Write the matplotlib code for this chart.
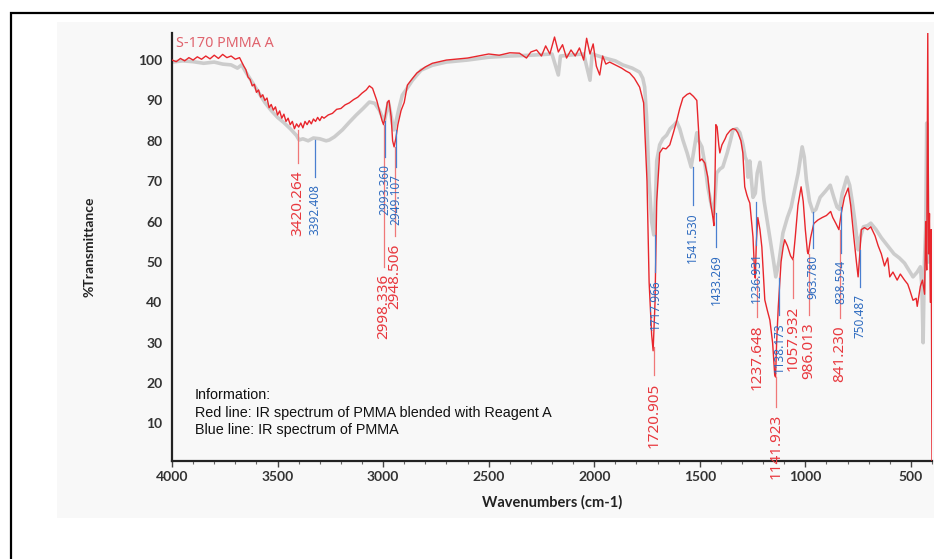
import matplotlib
matplotlib.use("Agg")
import matplotlib.pyplot as plt
from matplotlib.patches import Rectangle
from matplotlib.ticker import MultipleLocator

# blend spectrum (red)
red_wn = [4000, 3980, 3960, 3940, 3920, 3900, 3880, 3860, 3840, 3820, 3800, 3780, 3760, 3740,
          3720, 3700, 3680, 3660, 3650, 3640, 3630, 3620, 3610, 3600, 3590, 3580, 3570, 3560,
          3550, 3540, 3530, 3520, 3510, 3500, 3490, 3480, 3470, 3460, 3450,
          3440, 3430, 3420, 3410, 3400, 3390, 3380, 3370, 3360, 3350, 3340, 3330, 3320, 3310,
          3300, 3290, 3280, 3260, 3240, 3220, 3200, 3180,
          3160, 3140, 3120, 3100, 3080, 3065, 3050, 3030, 3015, 3005, 2998, 2990, 2980, 2972,
          2962, 2955, 2948, 2940, 2930, 2915, 2900, 2885, 2860, 2840, 2800, 2767, 2700, 2600,
          2500, 2450, 2400, 2354, 2321, 2300, 2273, 2250, 2230, 2210, 2188, 2170, 2150, 2131,
          2110, 2090, 2070, 2050, 2036, 2020, 2005, 1990, 1974, 1960, 1945, 1927, 1900, 1870,
          1850, 1832, 1810, 1785, 1766, 1750, 1740, 1728, 1721, 1712, 1704, 1690, 1675, 1660,
          1642, 1625, 1609, 1595, 1580, 1560, 1547, 1530, 1514, 1505, 1500, 1490, 1476, 1462,
          1450, 1438, 1433, 1428, 1424, 1418, 1410, 1405, 1395, 1380, 1372, 1355, 1343, 1330,
          1320, 1305, 1296, 1287, 1277, 1270, 1263, 1255, 1248, 1240, 1237, 1232, 1225, 1215,
          1206, 1198, 1192, 1180, 1168, 1155, 1145, 1141, 1136, 1128, 1115, 1105, 1098, 1085,
          1070, 1058, 1048, 1035, 1020, 1010, 1000, 990, 986, 975, 960, 940, 920, 900,
          880, 870, 855, 841, 830, 815, 797, 785, 770, 758, 750, 742, 735, 720,
          705, 690, 670, 655, 640, 625, 610, 600, 585, 565, 550, 530, 515, 505,
          490, 475, 470, 455, 445, 435, 430, 425, 420, 416, 412, 408, 404, 400]
red_t = [100.0, 99.6, 100.4, 99.8, 100.6, 100.0, 100.8, 100.2, 101.0, 100.3, 101.2, 100.4, 101.4, 100.6,
         101.0, 100.2, 100.6, 98.5, 97.6, 95.8, 95.2, 93.6, 94.0, 92.0, 92.6, 90.8, 91.4, 90.0,
         90.6, 88.2, 89.0, 87.6, 88.4, 86.4, 87.4, 85.6, 86.6, 84.8, 85.6,
         84.0, 84.8, 83.0, 84.2, 83.4, 84.4, 83.2, 84.8, 84.0, 85.0, 84.2, 85.4, 84.8, 85.8,
         85.0, 86.0, 85.6, 86.4, 86.8, 87.8, 88.0, 88.9,
         89.4, 90.2, 90.8, 91.8, 92.6, 93.6, 93.0, 90.0, 87.0, 85.0, 84.0, 86.0, 89.5, 90.0,
         86.0, 80.0, 78.5, 80.5, 84.0, 87.5, 89.5, 93.8, 95.5, 96.8, 98.3, 99.2, 100.0, 100.5,
         101.5, 101.2, 101.8, 101.7, 100.5, 102.0, 102.5, 101.0, 103.5, 101.5, 105.7, 102.0, 103.8, 100.5,
         102.5, 101.0, 103.0, 100.0, 105.4, 101.5, 104.0, 98.5, 96.3, 101.0, 99.0, 99.5, 98.8, 98.0,
         97.3, 96.8, 95.5, 93.3, 89.4, 70.0, 45.0, 32.0, 28.0, 40.0, 65.0, 77.0, 78.2, 78.0,
         79.0, 82.0, 85.0, 88.0, 90.6, 91.5, 91.8, 91.0, 90.0, 82.0, 75.0, 75.5, 74.5, 71.0,
         65.0, 61.0, 59.0, 70.0, 84.0, 83.5, 79.0, 77.0, 79.0, 80.5, 81.5, 82.6, 83.0, 82.8,
         82.0, 80.0, 77.0, 68.6, 66.6, 65.5, 64.6, 60.0, 56.2, 47.0, 46.0, 55.0, 61.0, 58.0,
         53.7, 46.0, 40.6, 38.0, 35.6, 30.0, 22.0, 21.5, 30.0, 39.0, 50.0, 53.7, 55.5, 54.0,
         51.5, 50.5, 56.0, 64.0, 68.6, 65.0, 58.0, 52.5, 52.0, 56.0, 59.5, 60.4, 61.0, 61.5,
         62.5, 61.0, 59.5, 58.0, 62.0, 66.0, 68.3, 64.0, 56.0, 50.0, 46.3, 52.0, 58.0, 58.5,
         58.0, 58.7, 56.5, 54.0, 52.0, 49.0, 51.0, 46.3, 47.5, 45.5, 47.0, 45.5, 44.5, 43.0,
         40.5, 41.0, 39.0, 44.0, 45.5, 42.0, 60.0, 48.0, 106.7, 52.0, 62.0, 40.0, 58.0, 0.5]

# PMMA reference spectrum (grey)
grey_wn = [4000, 3950, 3900, 3850, 3800, 3760, 3720, 3690, 3670, 3650, 3620, 3590, 3560, 3530,
           3500, 3470, 3440, 3410, 3398, 3380, 3355, 3330, 3300, 3270, 3255, 3230, 3193, 3160,
           3127, 3095, 3065, 3040, 3018, 3005, 2993, 2985, 2975, 2965, 2955, 2949, 2940, 2925,
           2909, 2880, 2861, 2820, 2767, 2700, 2600, 2500, 2400, 2300, 2200, 2170, 2160, 2100,
           2050, 2020, 2010, 1980, 1950, 1900, 1865, 1820, 1785, 1770, 1761, 1752, 1740, 1728,
           1718, 1710, 1704, 1690, 1675, 1657, 1640, 1620, 1609, 1595, 1580, 1560, 1541, 1530,
           1514, 1505, 1490, 1475, 1462, 1445, 1433, 1425, 1420, 1405, 1391, 1370, 1355, 1343,
           1325, 1310, 1295, 1285, 1277, 1272, 1263, 1255, 1248, 1237, 1228, 1215, 1205, 1196,
           1180, 1168, 1150, 1140, 1125, 1106, 1085, 1067, 1050, 1034, 1015, 1005, 995, 980,
           964, 950, 930, 905, 882, 865, 850, 838, 825, 803, 790, 778, 765, 750,
           740, 725, 705, 690, 665, 640, 610, 580, 555, 530, 510, 490, 470, 455,
           448, 442, 436, 430, 425, 420, 415]
grey_t = [99.5, 99.8, 99.6, 99.2, 99.5, 99.0, 98.8, 98.0, 98.8, 97.0, 94.5, 92.0, 89.5, 87.5,
          85.8, 84.5, 83.0, 81.3, 80.2, 80.5, 80.0, 80.7, 80.5, 80.0, 80.2, 81.0, 82.7, 84.6,
          86.4, 88.0, 89.6, 89.3, 87.6, 86.0, 85.0, 87.0, 89.6, 87.0, 84.0, 82.7, 84.5, 88.0,
          91.3, 93.5, 95.0, 97.5, 98.7, 99.5, 100.0, 100.7, 101.0, 101.2, 101.5, 96.3, 101.0, 101.3,
          101.5, 95.0, 101.5, 101.0, 100.5, 99.8, 98.8, 98.0, 97.0, 95.5, 93.3, 86.0, 70.0, 60.0,
          56.7, 65.0, 75.0, 79.0, 80.5, 81.4, 83.0, 84.0, 84.7, 83.0, 80.2, 77.0, 73.5, 77.0,
          82.0, 80.0, 78.5, 74.0, 68.6, 64.0, 62.0, 68.0, 72.0, 73.0, 73.5, 77.0, 80.0, 82.7,
          83.0, 82.0, 79.0, 76.0, 75.0, 71.0, 75.0, 70.0, 66.0, 67.0, 72.0, 74.7, 70.0, 65.3,
          60.0, 56.2, 50.0, 46.3, 50.0, 57.2, 61.0, 63.6, 68.0, 72.0, 78.5, 76.0, 70.3, 65.0,
          62.4, 63.0, 66.0, 67.5, 69.0, 66.0, 63.6, 63.0, 67.0, 71.0, 69.0, 65.0, 60.0, 53.0,
          56.0, 58.7, 59.0, 59.6, 58.0, 56.0, 54.0, 52.0, 51.0, 49.7, 48.0, 46.3, 47.5, 48.8,
          44.0, 30.0, 50.0, 58.0, 84.4, 60.0, 50.0]

# peak labels: text, where its tick line stands, where the line starts and ends
red_peaks = ["3420.264", "2998.336", "2948.506", "1720.905", "1237.648",
             "1141.923", "1057.932", "986.013", "841.230"]
red_x = [3405, 2996, 2943, 1715, 1228, 1139, 1058, 982, 835]
red_top = [82.7, 84.0, 78.5, 29.0, 46.0, 21.5, 51.0, 52.0, 58.0]
red_bottom = [74.5, 48.8, 56.4, 22.0, 36.4, 14.1, 41.0, 36.9, 36.1]

blue_peaks = ["3392.408", "2993.360", "2949.107", "1717.966", "1541.530", "1433.269",
              "1236.931", "1138.173", "963.780", "838.594", "750.487"]
blue_x = [3324, 2991, 2938, 1710, 1534, 1422, 1232, 1125, 963, 830, 739]
blue_top = [80.2, 85.0, 82.7, 56.7, 73.5, 62.0, 64.9, 46.0, 62.4, 63.6, 53.0]
blue_bottom = [71.0, 76.0, 73.5, 47.5, 64.0, 53.7, 54.2, 36.9, 53.5, 52.2, 43.8]

info_lines = ["Information:",
              "Red line: IR spectrum of PMMA blended with Reagent A",
              "Blue line: IR spectrum of PMMA"]

fig = plt.figure(figsize=(9.34, 5.59), dpi=100)

# grey panel and the black frame round the picture
fig.add_artist(Rectangle((57 / 934, 1 - 518 / 559), 1.0, 496 / 559,
                         transform=fig.transFigure, facecolor="#f8f8f8",
                         edgecolor="none", zorder=-5))
fig.add_artist(Rectangle((11 / 934, -0.2), 1.2, 0.2 + 1 - 13 / 559,
                         transform=fig.transFigure, facecolor="none",
                         edgecolor="black", lw=1.6, zorder=-4))

ax = fig.add_axes([172 / 934, 1 - 461 / 559, 760 / 934, 428 / 559])
ax.set_facecolor("none")

ax.plot(grey_wn, grey_t, color="#c8c8c8", lw=2.6, alpha=0.9, zorder=2)
ax.plot(red_wn, red_t, color="#e8262c", lw=1.0, zorder=3)

for lab, x, top, bot in zip(red_peaks, red_x, red_top, red_bottom):
    ax.plot([x, x], [top, bot], color="#f07878", lw=0.9, zorder=4)
    ax.text(x, bot - 1.8, lab, rotation=90, ha="center", va="top",
            color="#e8383e", fontsize=11, family="Noto Sans", zorder=5,
            clip_on=False)

for lab, x, top, bot in zip(blue_peaks, blue_x, blue_top, blue_bottom):
    ax.plot([x, x], [top, bot], color="#4a7fd0", lw=0.9, zorder=4)
    ax.text(x, bot - 1.8, lab, rotation=90, ha="center", va="top",
            color="#2f6cc0", fontsize=8.5, family="Noto Sans", zorder=5)

ax.text(0.005, 0.992, "S-170 PMMA A", transform=ax.transAxes, ha="left", va="top",
        color="#e0646e", fontsize=10.3, family="Noto Sans")

for i, line in enumerate(info_lines):
    ax.text(0.030, 0.154 - i * 0.041, line, transform=ax.transAxes, ha="left",
            va="center", fontsize=10.4, family="Liberation Sans", color="#111111")

ax.set_xlim(4000, 400)
ax.set_ylim(0.7, 106.7)
ax.xaxis.set_major_locator(MultipleLocator(500))
ax.xaxis.set_minor_locator(MultipleLocator(100))
ax.set_yticks(range(10, 101, 10))

for s in ["top", "right"]:
    ax.spines[s].set_visible(False)
for s in ["left", "bottom"]:
    ax.spines[s].set_linewidth(1.6)
    ax.spines[s].set_color("#222222")

ax.tick_params(axis="x", which="major", direction="out", length=4, width=1,
               color="#444444", pad=3)
ax.tick_params(axis="x", which="minor", direction="out", length=2.5, width=0.8,
               color="#666666")
ax.tick_params(axis="y", length=0, pad=7)
for t in ax.get_xticklabels() + ax.get_yticklabels():
    t.set_fontfamily("Lato")
    t.set_fontweight("bold")
    t.set_fontsize(10)
    t.set_color("#333333")

ax.set_xlabel("Wavenumbers (cm-1)", family="Lato", fontweight="bold",
              fontsize=10.5, color="#222222", labelpad=9)
ax.set_ylabel("%Transmittance", family="Lato", fontweight="bold",
              fontsize=10, color="#222222")
ax.yaxis.set_label_coords(-0.1, 0.5)

fig.savefig("out.png", dpi=100)
